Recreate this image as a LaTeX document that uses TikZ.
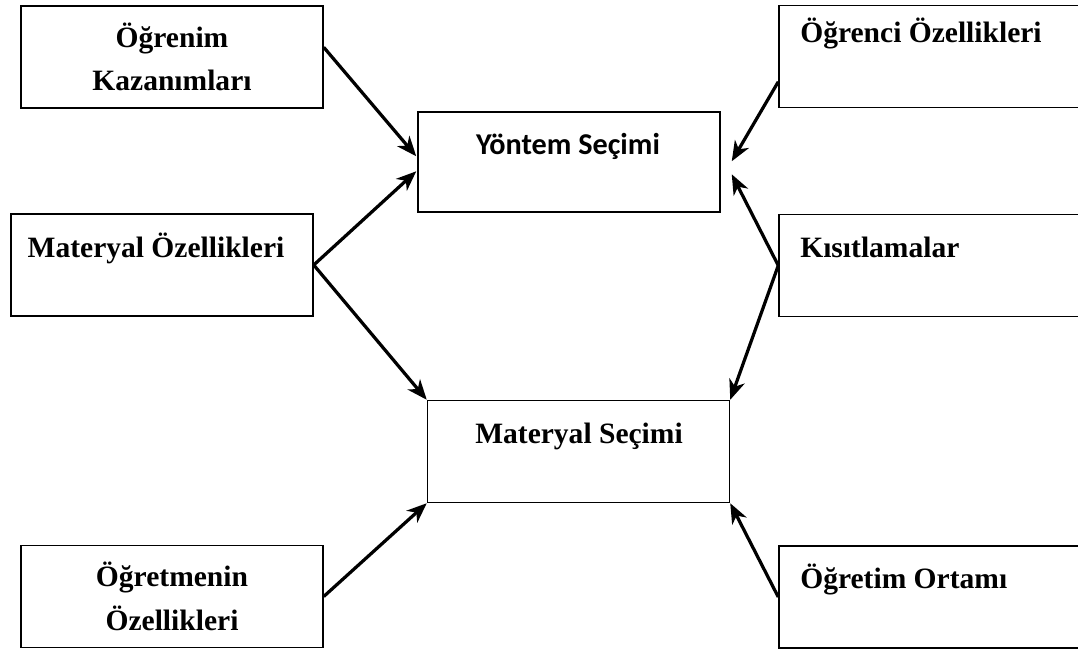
\documentclass[tikz,border=0pt]{standalone}
\usepackage{fontspec}
\setmainfont{Liberation Serif}
\newfontfamily\calibrifont{Carlito}
\usetikzlibrary{arrows.meta,calc}

\begin{document}
\begin{tikzpicture}[
    x=0.025cm, y=-0.025cm,
    box/.style={rectangle, draw, line width=1pt, minimum width=7.55cm, minimum height=2.55cm, inner sep=0pt, align=center, font=\bfseries\fontsize{21}{31}\selectfont},
    rbox/.style={box, minimum width=7.75cm},
    lbl/.style={inner sep=0pt, font=\bfseries\fontsize{21}{31}\selectfont},
    arrow/.style={-{Stealth[length=5mm, width=4mm, inset=1.5mm]}, line width=2.3pt}
]
    \useasboundingbox (0,0) rectangle (1078,649);
    \clip (0,0) rectangle (1078,649);

    % sol kutular
    \node[box] (ogrenim) at (172,57) {Öğrenim\\Kazanımları};
    \node[box] (matoz) at (162,265) {};
    \node[lbl, anchor=base] (matoz-t) at (156,258) {Materyal Özellikleri};
    \node[box] (ogretmen) at (172,596.5) {Öğretmenin\\Özellikleri};

    % orta kutular
    \node[box, minimum height=2.5cm] (yontem) at (569,162) {};
    \node[lbl, anchor=base, font=\calibrifont\bfseries\fontsize{21.5}{24}\selectfont] (yontem-t) at (568,155) {Yöntem Seçimi};
    \node[box] (matsec) at (578.5,451.5) {};
    \node[lbl, anchor=base] (matsec-t) at (579,443) {Materyal Seçimi};

    % sağ kutular
    \node[rbox] (ogrenci) at (934,56.5) {};
    \node[lbl, anchor=base west] (ogrenci-t) at (800,43) {Öğrenci Özellikleri};
    \node[rbox] (kisit) at (934,265.5) {};
    \node[lbl, anchor=base west] (kisit-t) at (800,258) {Kısıtlamalar};
    \node[rbox] (ortam) at (934,597) {};
    \node[lbl, anchor=base west] (ortam-t) at (800,588) {Öğretim Ortamı};

    % oklar (sol)
    \draw[arrow] ($(ogrenim.north east)+(0,42)$) -- ($(yontem.north west)+(-1,45)$);
    \draw[arrow] (matoz.east) -- ($(yontem.north west)+(-1,60)$);
    \draw[arrow] (matoz.east) -- (matsec.north west);
    \draw[arrow] (ogretmen.east) -- (matsec.south west);

    % oklar (sağ)
    \draw[arrow] ($(ogrenci.north west)+(0,77)$) -- ($(yontem.north east)+(11,50)$);
    \draw[arrow] (kisit.west) -- ($(yontem.north east)+(11,63)$);
    \draw[arrow] (kisit.west) -- (matsec.north east);
    \draw[arrow] (ortam.west) -- (matsec.south east);
\end{tikzpicture}
\end{document}
